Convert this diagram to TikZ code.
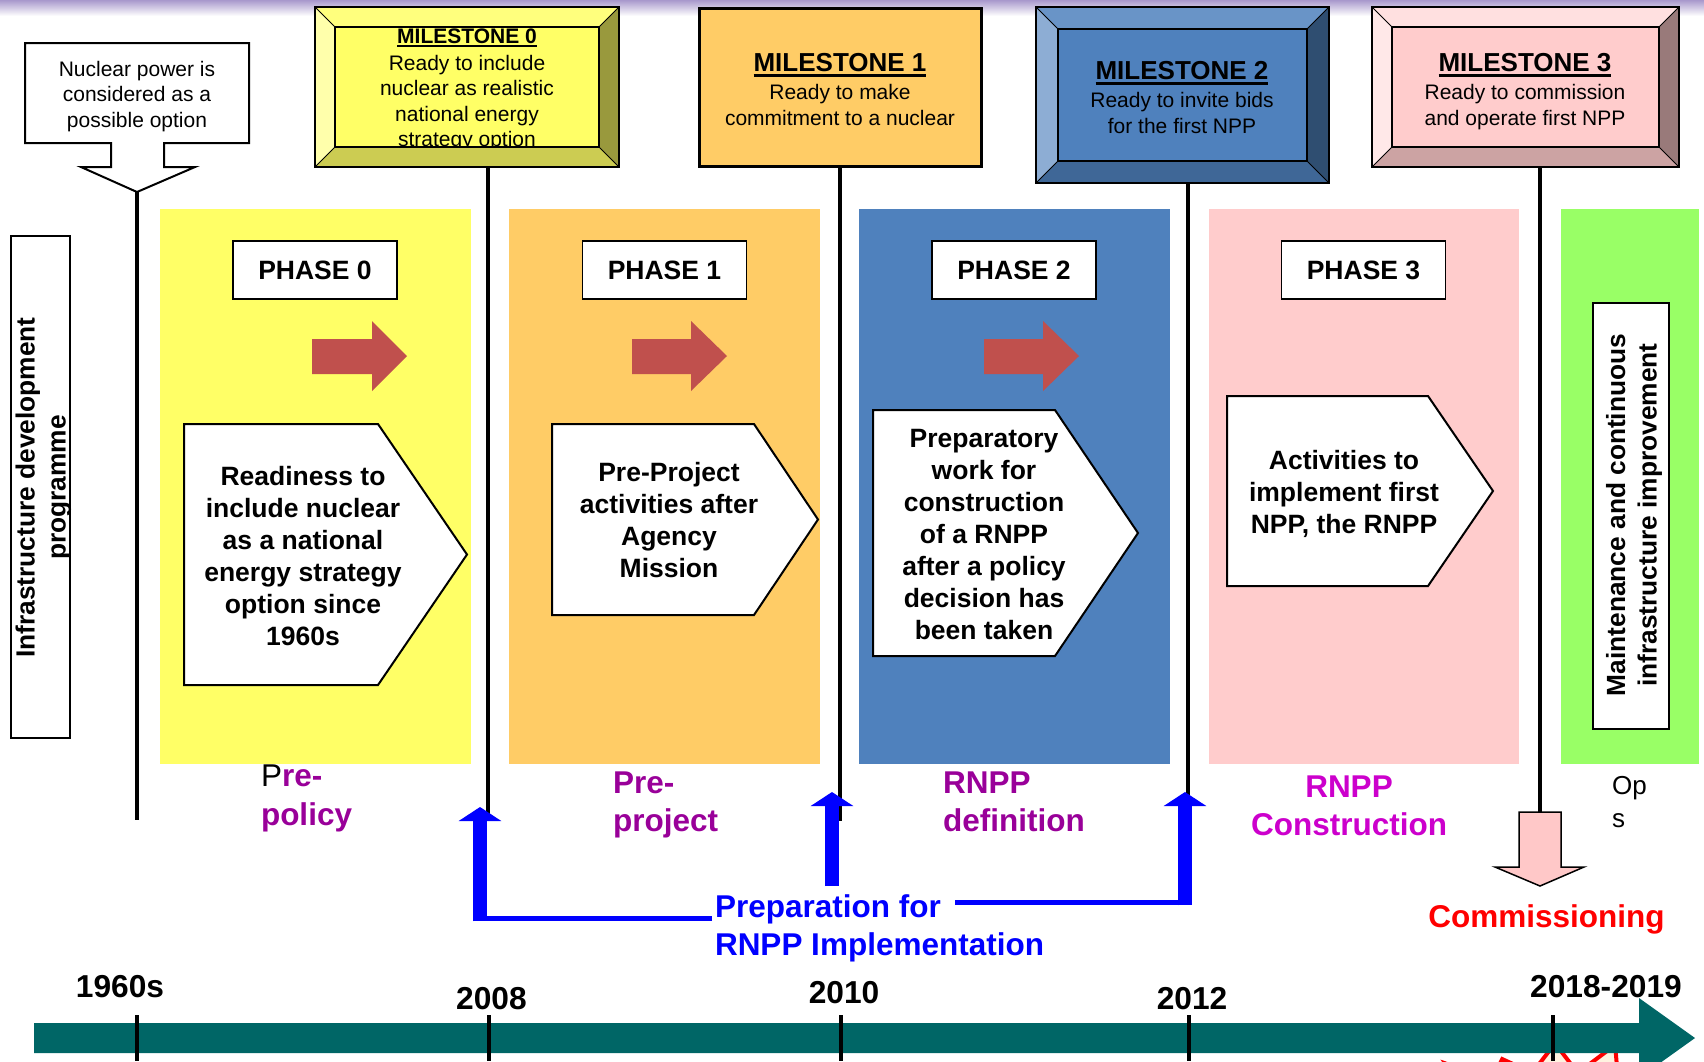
\documentclass[tikz,border=0pt]{standalone}
\usepackage{fontspec}
\setmainfont{Liberation Sans}
\usetikzlibrary{arrows.meta,shapes.symbols}
\definecolor{yel}{HTML}{FFFF66}
\definecolor{ora}{HTML}{FFCC66}
\definecolor{blu}{HTML}{4F81BD}
\definecolor{pnk}{HTML}{FFCCCC}
\definecolor{grn}{HTML}{99FF66}
\definecolor{arrred}{HTML}{C0504D}
\definecolor{teal0}{HTML}{006666}
\definecolor{purp}{HTML}{990099}
\definecolor{mag}{HTML}{CC00CC}
\definecolor{blue0}{HTML}{0000FF}
\definecolor{red0}{HTML}{FF0000}
\definecolor{cream}{HTML}{FFF3E0}
\definecolor{bandc}{HTML}{A898CC}
\definecolor{pinkarr}{HTML}{FFC8C8}
\newsavebox\ulbox
\newcommand\thickul[3]{\sbox\ulbox{#1}\rlap{\rule[#2]{\wd\ulbox}{#3}}\usebox\ulbox}
\newcommand\fsz[2]{\fontsize{#1}{#2}\selectfont}
% bevel: #1 x1 #2 y1 #3 x2 #4 y2 #5 d #6 top #7 left #8 right #9 bottom
\newcommand\bevelbox[9]{%
  \fill[#6] (#1,#2) -- (#3,#2) -- ({#3-#5},{#2+#5}) -- ({#1+#5},{#2+#5}) -- cycle;
  \fill[#7] (#1,#2) -- ({#1+#5},{#2+#5}) -- ({#1+#5},{#4-#5}) -- (#1,#4) -- cycle;
  \fill[#8] (#3,#2) -- ({#3-#5},{#2+#5}) -- ({#3-#5},{#4-#5}) -- (#3,#4) -- cycle;
  \fill[#9] (#1,#4) -- ({#1+#5},{#4-#5}) -- ({#3-#5},{#4-#5}) -- (#3,#4) -- cycle;
  \draw[line width=1] (#1,#2) -- ({#1+#5},{#2+#5}) (#3,#2) -- ({#3-#5},{#2+#5})
        (#1,#4) -- ({#1+#5},{#4-#5}) (#3,#4) -- ({#3-#5},{#4-#5});
  \draw[line width=1.8] ({#1+#5},{#2+#5}) rectangle ({#3-#5},{#4-#5});
  \draw[line width=2.5] (#1,#2) rectangle (#3,#4);
}
\newcommand\pent[5]{\draw[line width=2, fill=white] (#1,#2) -- (#3,#2) -- (#5,{(#2+#4)/2}) -- (#3,#4) -- (#1,#4) -- cycle;}
\newcommand\redarrow[3]{\fill[arrred] (#1,339) -- (#2,339) -- (#2,321) -- (#3,356) -- (#2,391) -- (#2,374) -- (#1,374) -- cycle;}
\begin{document}
\begin{tikzpicture}[x=1pt,y=-1pt,
  every node/.style={inner sep=0pt, outer sep=0pt},
  mline/.style={line width=3.5},
  phasebox/.style={draw, fill=white, line width=1.5, minimum width=164pt, minimum height=58pt, font=\fsz{26.5}{30}\bfseries},
  ptxt/.style={align=center, font=\fsz{26.5}{32}\bfseries},
  msbody/.style={align=center, font=\fsz{21}{25.6}},
  mstitle/.style={anchor=base, font=\fsz{26}{30}\bfseries},
  lbl/.style={align=left, anchor=west, font=\fsz{31.5}{38.5}\bfseries},
  yr/.style={anchor=base, font=\fsz{31.7}{36}\bfseries},
  bthick/.style={draw=blue0, line width=14, -{Triangle[width=42pt,length=14pt]}},
  bthin/.style={draw=blue0, line width=5.5},
  tick/.style={line width=4}]
\useasboundingbox (0,0) rectangle (1704,1061);
\clip (0,0) rectangle (1704,1061);
\shade[top color=bandc, bottom color=white] (0,0) rectangle (1704,16);

% columns
\fill[yel] (160,209) rectangle (471,764);
\fill[ora] (509,209) rectangle (820,764);
\fill[blu] (859,209) rectangle (1170,764);
\fill[pnk] (1209,209) rectangle (1519,764);
\fill[grn] (1561,209) rectangle (1699,764);

% callout
\draw[line width=2, fill=white] (25,43) -- (249,43) -- (249,143) -- (164,143) -- (164,167) -- (195,167) -- (137,192) -- (81,167) -- (111,167) -- (111,143) -- (25,143) -- cycle;
\node[msbody] (co) at (137,96.5) {Nuclear power is\\considered as a\\possible option};
\coordinate (cotip) at (137,192);
\coordinate (e60) at (137,820);
\draw[mline] (cotip) -- (e60);

% milestone 0
\node[minimum width=304pt, minimum height=160pt] (M0) at (467,87) {};
\fill[yel] (315,7) rectangle (619,167);
\node[anchor=base, font=\fsz{21}{25}\bfseries] (m0t) at (467,43) {\thickul{MILESTONE 0}{-4pt}{2.5pt}};
\node[msbody] (m0b) at (467,103) {Ready to include\\nuclear as realistic\\national energy\\strategy option};
\bevelbox{315}{7}{619}{167}{20}{yel!85!white}{yel!55!white}{yel!60!black}{yel!80!black}

% milestone 1
\node[draw, line width=3, fill=ora, minimum width=282pt, minimum height=158pt] (M1) at (840,87) {};
\node[mstitle] (m1t) at (840,71) {\thickul{MILESTONE 1}{-6pt}{3pt}};
\node[msbody] (m1b) at (840,105) {Ready to make\\commitment to a nuclear};

% milestone 2
\node[minimum width=293pt, minimum height=176pt] (M2) at (1182.5,95) {};
\fill[blu] (1036,7) rectangle (1329,183);
\bevelbox{1036}{7}{1329}{183}{22}{blu!85!white}{blu!65!white}{blu!60!black}{blu!80!black}
\node[mstitle] (m2t) at (1182,79) {\thickul{MILESTONE 2}{-6pt}{3pt}};
\node[msbody] (m2b) at (1182,113) {Ready to invite bids\\for the first NPP};

% milestone 3
\node[minimum width=307pt, minimum height=160pt] (M3) at (1525.5,87) {};
\fill[pnk] (1372,7) rectangle (1679,167);
\bevelbox{1372}{7}{1679}{167}{20}{pnk!60!white}{pnk!45!white}{pnk!60!black}{pnk!80!black}
\node[mstitle] (m3t) at (1525,71) {\thickul{MILESTONE 3}{-6pt}{3pt}};
\node[msbody] (m3b) at (1525,107) {Ready to commission\\and operate first NPP};

% milestone lines
\coordinate (e0) at (488,820);
\coordinate (e1) at (840,821);
\coordinate (e2) at (1188,821);
\coordinate (e3) at (1540,812);
\draw[mline] (M0.south -| e0) -- (e0);
\draw[mline] (M1.south) -- (e1);
\draw[mline] (M2.south -| e2) -- (e2);
\draw[mline] (M3.south -| e3) -- (e3);

% phase labels
\node[phasebox] (ph0) at (315,270) {PHASE 0};
\node[phasebox] (ph1) at (664.5,270) {PHASE 1};
\node[phasebox] (ph2) at (1014,270) {PHASE 2};
\node[phasebox] (ph3) at (1363.5,270) {PHASE 3};

% red arrows
\redarrow{312}{372}{407}
\redarrow{632}{691}{727}
\redarrow{984}{1043}{1079}

% pentagons
\pent{184}{424}{378}{685}{467}
\node[ptxt] (t0) at (303,556) {Readiness to\\include nuclear\\as a national\\energy strategy\\option since\\1960s};
\pent{552}{424}{754}{615}{818}
\node[ptxt] (t1) at (669,520.5) {Pre-Project\\activities after\\Agency\\Mission};
\pent{873}{410}{1055}{656}{1138}
\node[ptxt] (t2) at (984,534.5) {Preparatory\\work for\\construction\\of a RNPP\\after a policy\\decision has\\been taken};
\pent{1227}{396}{1428}{586}{1493}
\node[ptxt] (t3) at (1344,494) {Activities to\\implement first\\NPP, the RNPP};

% vertical boxes
\draw[line width=2] (11,236) rectangle (70,738);
\node[align=center, rotate=90, font=\fsz{26.3}{31}\bfseries] (infra) at (43.5,487.5) {Infrastructure development\\programme};
\draw[line width=2, fill=white] (1593,303) rectangle (1669,729);
\node[align=center, rotate=90, font=\fsz{26.3}{31.5}\bfseries] (maint) at (1634,515) {Maintenance and continuous\\infrastructure improvement};

% bottom labels
\node[lbl] (lpol) at (261,798.5) {{\mdseries\color{black}P}{\color{purp}re-}\\{\color{purp}policy}};
\node[lbl, text=purp] (lproj) at (613,805) {Pre-\\project};
\node[lbl, text=purp] (ldef) at (943,802) {RNPP\\definition};
\node[align=center, font=\fsz{31.5}{38.5}\bfseries, text=mag] (lcon) at (1349,806) {RNPP\\Construction};
\node[align=left, anchor=west, font=\fsz{26}{33}] (lops) at (1612,802) {Op\\s};
\node[anchor=base, font=\fsz{31.5}{38}\bfseries, text=red0] (lcom) at (1546.5,927) {Commissioning};
\node[lbl, text=blue0] (prep) at (715,928.5) {Preparation for\\RNPP Implementation};

% blue connectors
\coordinate (h0a) at (712,918.5);
\coordinate (h0b) at (473,918.5);
\coordinate (v0a) at (480,921.25);
\coordinate (v0b) at (480,807);
\coordinate (v1a) at (832,886);
\coordinate (v1b) at (832,792);
\coordinate (h2a) at (955,902.5);
\coordinate (h2b) at (1188,902.5);
\coordinate (v2a) at (1185,905.25);
\coordinate (v2b) at (1185,792);
\draw[bthin] (h0a) -- (h0b);
\draw[bthick] (v0a) -- (v0b);
\draw[bthick] (v1a) -- (v1b);
\draw[bthin] (h2a) -- (h2b);
\draw[bthick] (v2a) -- (v2b);

% pink commissioning arrow
\draw[line width=1.5, fill=pinkarr] (1519,812) -- (1561,812) -- (1561,867) -- (1584,867) -- (1540,886) -- (1495,867) -- (1519,867) -- cycle;

% starburst (mostly cut off)
\node[starburst, starburst points=13, starburst point height=40pt, draw=red0, fill=cream, line width=4, minimum width=270pt, minimum height=140pt] (boom) at (1555,1102) {};

% timeline
\fill[teal0] (34,1023) -- (1639,1023) -- (1639,998) -- (1695,1038) -- (1639,1078) -- (1639,1053) -- (34,1053) -- cycle;
\draw[tick] (137,1015) -- (137,1061);
\draw[tick] (489,1015) -- (489,1061);
\draw[tick] (841,1015) -- (841,1061);
\draw[tick] (1189,1015) -- (1189,1061);
\draw[tick] (1553,1015) -- (1553,1061);
\node[yr] (y60) at (120,997) {1960s};
\node[yr] (y08) at (491.5,1009) {2008};
\node[yr] (y10) at (844,1003) {2010};
\node[yr] (y12) at (1192,1009) {2012};
\node[yr] (y18) at (1606,997) {2018-2019};
\end{tikzpicture}
\end{document}
